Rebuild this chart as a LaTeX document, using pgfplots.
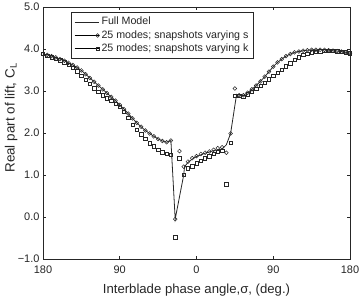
\documentclass[border=0pt]{standalone}
\usepackage{pgfplots}
\pgfplotsset{compat=1.18}
\usepackage{fontspec}
\setmainfont{Liberation Sans}
\definecolor{ink}{gray}{0.15}
\newcommand{\legfont}{\fontsize{10.7}{12}\selectfont}
\pgfplotsset{
  lineleg/.style={legend image code/.code={\draw[##1] (0bp,0bp) -- (24bp,0bp);}},
  markleg/.style={legend image code/.code={\path (0bp,0bp) -- (24bp,0bp); \draw[##1] plot coordinates {(23bp,0bp)};}},
}
\begin{document}
\begin{tikzpicture}
\path[use as bounding box] (-43bp,-39bp) rectangle (317bp,259bp);
\begin{axis}[
  at={(0,0)}, anchor=south west,
  scale only axis, width=307bp, height=252bp,
  xmin=-180, xmax=180, ymin=-1, ymax=5,
  xtick={-180,-90,0,90,180}, xticklabels={180,90,0,90,180},
  ytick={-1,0,1,2,3,4,5}, yticklabels={−1.0,0.0,1.0,2.0,3.0,4.0,5.0},
  tick align=inside, major tick length=3bp,
  axis line style={ink, line width=0.6bp},
  tick style={ink, line width=0.6bp},
  every tick label/.append style={font=\fontsize{11}{13}\selectfont, text=ink},
  xticklabel style={anchor=base, yshift=-14.3bp},
  xlabel={Interblade phase angle,σ, (deg.)},
  ylabel={Real part of lift, C\textsubscript{L}},
  xlabel style={font=\fontsize{13.2}{15}\selectfont, text=ink, at={(axis description cs:0.5,0)}, anchor=base, yshift=-34bp},
  ylabel style={font=\fontsize{13.5}{15}\selectfont, text=ink, at={(axis description cs:-0.104,0.56)}, anchor=center},
  legend cell align=left,
  legend style={at={(axis description cs:0.091,0.98)}, anchor=north west,
    draw=ink, line width=0.6bp, font=\legfont, text=ink,
    inner xsep=3bp, inner ysep=3.2bp, row sep=0bp,
    nodes={text height=8bp, text depth=2.5bp, inner ysep=1.4bp}},
]
\addplot[ink, line width=0.8bp, mark=none, lineleg] coordinates {
(-180,3.88) (-175,3.86) (-170,3.83) (-165,3.80) (-160,3.76) (-155,3.72)
(-150,3.67) (-145,3.62) (-140,3.56) (-135,3.49) (-130,3.40) (-125,3.31)
(-120,3.22) (-115,3.13) (-110,3.04) (-105,2.95) (-100,2.86) (-95,2.77)
(-90,2.67) (-85,2.57) (-80,2.46) (-75,2.35) (-70,2.24) (-65,2.15)
(-60,2.06) (-55,1.99) (-50,1.92) (-45,1.86) (-40,1.81) (-35,1.78)
(-30,1.82) (-25,-0.05) (-15,1.00) (-14,1.20) (-10,1.30) (-5,1.38)
(0,1.44) (5,1.48) (10,1.52) (15,1.55) (20,1.58) (25,1.60) (30,1.62)
(35,1.72) (40,1.99) (47,2.92) (50,2.90) (55,2.90) (60,2.96) (65,3.04)
(70,3.13) (75,3.23) (80,3.34) (85,3.46) (90,3.58) (95,3.68) (100,3.76)
(105,3.83) (110,3.88) (115,3.92) (120,3.94) (125,3.96) (130,3.97)
(135,3.98) (140,3.98) (145,3.98) (150,3.98) (155,3.97) (160,3.96)
(165,3.95) (170,3.94) (175,3.92) (180,3.90)
};
\addlegendentry{\legfont Full Model}
\addplot[only marks, mark=o, mark size=1.9bp, mark options={ink, fill=white, line width=0.5bp}, markleg] coordinates {
(-180,3.88) (-175,3.86) (-170,3.83) (-165,3.80) (-160,3.76) (-155,3.72)
(-150,3.67) (-145,3.62) (-140,3.56) (-135,3.49) (-130,3.40) (-125,3.31)
(-120,3.22) (-115,3.13) (-110,3.04) (-105,2.95) (-100,2.86) (-95,2.77)
(-90,2.67) (-85,2.57) (-80,2.46) (-75,2.35) (-70,2.24) (-65,2.15)
(-60,2.06) (-55,1.99) (-50,1.92) (-45,1.86) (-40,1.81) (-35,1.78)
(-30,1.82) (-25,-0.05) (-20,1.57) (-15,1.20) (-10,1.32) (-5,1.40)
(0,1.45) (5,1.50) (10,1.53) (15,1.56) (20,1.60) (25,1.64) (30,1.66)
(35,1.53) (40,1.99) (45,3.06) (50,2.90) (55,2.90) (60,2.96) (65,3.04)
(70,3.13) (75,3.23) (80,3.34) (85,3.46) (90,3.58) (95,3.68) (100,3.76)
(105,3.83) (110,3.88) (115,3.92) (120,3.94) (125,3.96) (130,3.97)
(135,3.98) (140,3.98) (145,3.98) (150,3.98) (155,3.97) (160,3.96)
(165,3.95) (170,3.94) (175,3.92) (180,3.90)
};
\addlegendentry{\legfont 25 modes; snapshots varying s}
\addplot[only marks, mark=square, mark size=1.7bp, mark options={ink, fill=white, line width=0.5bp}, markleg] coordinates {
(-180,3.88) (-175,3.84) (-170,3.80) (-165,3.77) (-160,3.73) (-155,3.68)
(-150,3.62) (-145,3.55) (-140,3.47) (-135,3.37) (-130,3.27) (-125,3.17)
(-120,3.07) (-115,2.98) (-110,2.90) (-105,2.83) (-100,2.77) (-95,2.70)
(-90,2.62) (-85,2.50) (-80,2.36) (-75,2.20) (-70,2.08) (-65,1.97)
(-60,1.86) (-55,1.76) (-50,1.68) (-45,1.60) (-40,1.54) (-35,1.50)
(-30,1.48) (-25,-0.48) (-20,1.40) (-15,1.00) (-10,1.16) (-5,1.21)
(0,1.28) (5,1.34) (10,1.40) (15,1.45) (20,1.50) (25,1.55) (30,1.58)
(35,0.78) (40,1.77) (45,2.88) (50,2.88) (55,2.87) (60,2.92) (65,2.98)
(70,3.05) (75,3.12) (80,3.20) (85,3.28) (90,3.36) (95,3.44) (100,3.51)
(105,3.59) (110,3.66) (115,3.74) (120,3.80) (125,3.86) (130,3.89)
(135,3.92) (140,3.94) (145,3.95) (150,3.96) (155,3.96) (160,3.96)
(165,3.95) (170,3.94) (175,3.92) (180,3.90)
};
\addlegendentry{\legfont 25 modes; snapshots varying k}
\end{axis}
\end{tikzpicture}
\end{document}
